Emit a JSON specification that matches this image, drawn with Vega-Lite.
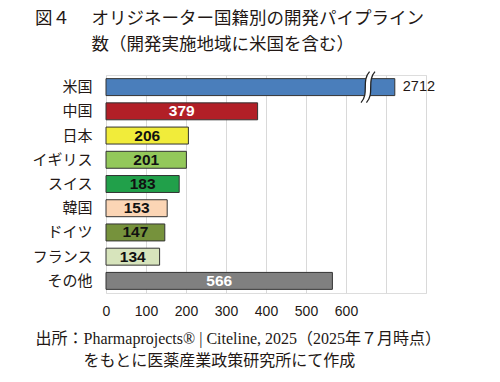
{
  "$schema": "https://vega.github.io/schema/vega-lite/v6.json",
  "autosize": {"type": "none"},
  "width": 320,
  "height": 218,
  "padding": {"left": 106, "top": 75, "right": 74, "bottom": 89},
  "background": "white",
  "title": {
    "text": ["図４　 オリジネーター国籍別の開発パイプライン", "\u200b　　　 数（開発実施地域に米国を含む）"],
    "anchor": "start",
    "frame": "group",
    "dx": -71,
    "offset": 16,
    "font": "Noto Sans CJK JP",
    "fontSize": 17.5,
    "fontWeight": "normal",
    "lineHeight": 25.5,
    "color": "#231815"
  },
  "data": {
    "values": [
      {"country": "米国", "n": 2712},
      {"country": "中国", "n": 379},
      {"country": "日本", "n": 206},
      {"country": "イギリス", "n": 201},
      {"country": "スイス", "n": 183},
      {"country": "韓国", "n": 153},
      {"country": "ドイツ", "n": 147},
      {"country": "フランス", "n": 134},
      {"country": "その他", "n": 566}
    ]
  },
  "transform": [
    {"calculate": "min(datum.n, 722)", "as": "shown"},
    {"calculate": "datum.shown / 2", "as": "mid"}
  ],
  "encoding": {
    "y": {
      "field": "country",
      "type": "nominal",
      "sort": null,
      "scale": {"paddingInner": 0.3, "paddingOuter": 0.15},
      "axis": {
        "domain": false,
        "ticks": false,
        "grid": false,
        "title": null,
        "labelFont": "Noto Sans CJK JP",
        "labelFontSize": 15,
        "labelPadding": 14,
        "labelColor": "#231815"
      }
    },
    "x": {
      "field": "shown",
      "type": "quantitative",
      "scale": {"domain": [0, 800]},
      "axis": {
        "values": [0, 100, 200, 300, 400, 500, 600, 700, 800],
        "labelExpr": "datum.value <= 600 ? datum.label : ''",
        "grid": true,
        "gridColor": "#d9d9d9",
        "domain": false,
        "ticks": false,
        "labelFlush": false,
        "labelOverlap": false,
        "labelFont": "Liberation Sans",
        "labelFontSize": 14,
        "labelColor": "#231815",
        "labelPadding": 11,
        "title": ["出所：Pharmaprojects® | Citeline, 2025（2025年７月時点）", "\u200b　　　をもとに医薬産業政策研究所にて作成"],
        "titleFont": "Liberation Serif, Noto Sans CJK JP",
        "titleFontSize": 16,
        "titleFontWeight": "normal",
        "titleColor": "#231815",
        "titleAnchor": "start",
        "titleAlign": "left",
        "titleBaseline": "top",
        "titleX": -71,
        "titleY": 37,
        "titleLineHeight": 22
      }
    }
  },
  "layer": [
    {
      "mark": {"type": "bar", "stroke": "#333333", "strokeWidth": 1},
      "encoding": {
        "color": {
          "field": "country",
          "type": "nominal",
          "scale": {
            "domain": ["米国", "中国", "日本", "イギリス", "スイス", "韓国", "ドイツ", "フランス", "その他"],
            "range": ["#4a7ebb", "#b21f27", "#f1ec3a", "#93c85a", "#21a04a", "#fbd5b5", "#76923c", "#d7e4bc", "#808080"]
          },
          "legend": null
        }
      }
    },
    {
      "transform": [{"filter": "datum.country !== '米国'"}],
      "mark": {"type": "text", "font": "Liberation Sans", "fontWeight": "bold", "fontSize": 15.5, "align": "center", "baseline": "middle"},
      "encoding": {
        "x": {"field": "mid", "type": "quantitative"},
        "text": {"field": "n", "type": "quantitative"},
        "color": {
          "condition": {"test": "datum.country === '中国' || datum.country === 'その他'", "value": "white"},
          "value": "#111111"
        }
      }
    },
    {
      "transform": [{"filter": "datum.country === '米国'"}],
      "mark": {"type": "text", "font": "Liberation Sans", "fontSize": 14.5, "align": "left", "baseline": "middle", "dx": 8, "letterSpacing": 1, "color": "#231815"},
      "encoding": {
        "text": {"field": "n", "type": "quantitative"}
      }
    },
    {
      "transform": [{"filter": "datum.country === '米国'"}],
      "mark": {"type": "point", "shape": "M -0.45 1 C 0.1 0.4 -0.45 -0.4 0.1 -1 L 0.45 -1 C -0.1 -0.4 0.45 0.4 -0.1 1 Z", "filled": true, "fill": "white", "opacity": 1, "size": 961, "strokeWidth": 0},
      "encoding": {
        "x": {"datum": 655, "type": "quantitative"}
      }
    },
    {
      "transform": [{"filter": "datum.country === '米国'"}],
      "mark": {"type": "point", "shape": "M -0.45 1 C 0.1 0.4 -0.45 -0.4 0.1 -1 M -0.1 1 C 0.45 0.4 -0.1 -0.4 0.45 -1", "filled": false, "stroke": "#222222", "strokeWidth": 1.3, "opacity": 1, "size": 961},
      "encoding": {
        "x": {"datum": 655, "type": "quantitative"}
      }
    }
  ]
}
